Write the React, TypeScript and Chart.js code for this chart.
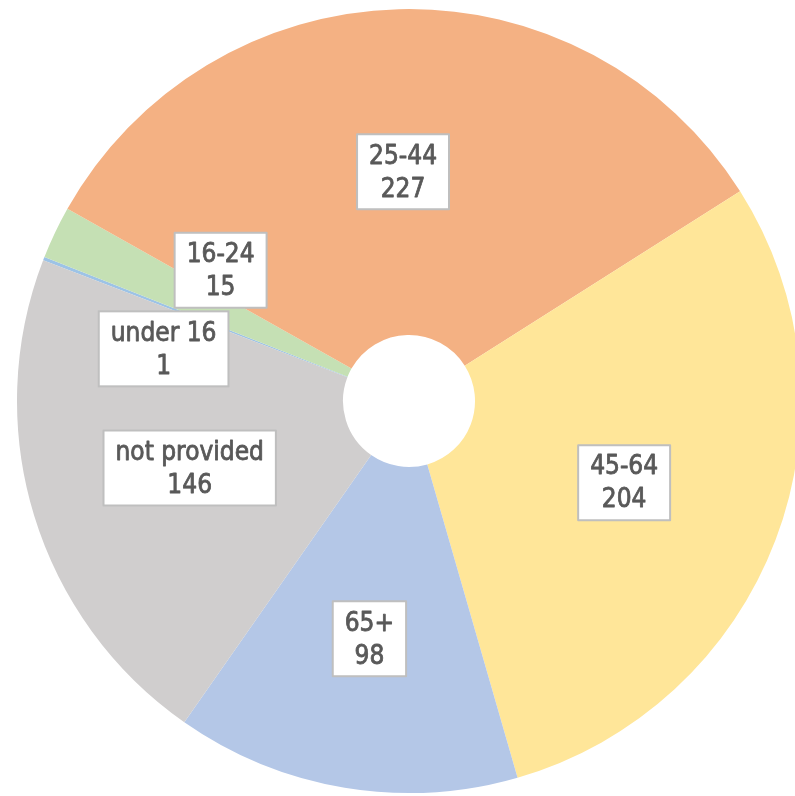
import React, { useEffect, useRef } from "react";
import { Chart, registerables } from "chart.js";

Chart.register(...registerables);

const categories = ["under 16", "16-24", "25-44", "45-64", "65+", "not provided"];
const counts = [1, 15, 227, 204, 98, 146];
const sliceColors = ["#9DC3E6", "#C5E0B4", "#F4B183", "#FFE699", "#B4C7E7", "#D0CECE"];
// label placement tweaks (degrees shift from slice middle, fraction of radius)
const labelAngleShift = [-9.3, 9.3, 0, 0, 0, 0];
const labelRadiusFrac = [0.64, 0.585, 0.585, 0.587, 0.615, 0.585];

const FONT = '"DejaVu Sans Condensed", "DejaVu Sans", sans-serif';

const labelPlugin = {
  id: "boxLabels",
  afterDraw(chart: any) {
    const ctx = chart.ctx;
    const meta = chart.getDatasetMeta(0);
    ctx.save();
    ctx.font = `26px ${FONT}`;
    meta.data.forEach((arc: any, i: number) => {
      const p = arc.getProps(["x", "y", "startAngle", "endAngle", "outerRadius"], true);
      const mid = (p.startAngle + p.endAngle) / 2 + (labelAngleShift[i] * Math.PI) / 180;
      const r = p.outerRadius * labelRadiusFrac[i];
      const cx = p.x + Math.cos(mid) * r;
      const cy = p.y + Math.sin(mid) * r;
      const l1 = categories[i];
      const l2 = String(counts[i]);
      const w = Math.max(ctx.measureText(l1).width, ctx.measureText(l2).width) + 24;
      const h = 75;
      ctx.fillStyle = "#FFFFFF";
      ctx.fillRect(cx - w / 2, cy - h / 2, w, h);
      ctx.strokeStyle = "#BFBFBF";
      ctx.lineWidth = 2;
      ctx.strokeRect(cx - w / 2, cy - h / 2, w, h);
      ctx.fillStyle = "#595959";
      ctx.strokeStyle = "#595959";
      ctx.lineWidth = 0.8;
      ctx.lineJoin = "round";
      ctx.textAlign = "center";
      ctx.textBaseline = "middle";
      ctx.fillText(l1, cx, cy - 15);
      ctx.strokeText(l1, cx, cy - 15);
      ctx.fillText(l2, cx, cy + 18);
      ctx.strokeText(l2, cx, cy + 18);
    });
    ctx.restore();
  },
};

export default function App() {
  const ref = useRef<HTMLCanvasElement>(null);
  useEffect(() => {
    if (!ref.current) return;
    const chart = new Chart(ref.current, {
      type: "doughnut",
      data: {
        labels: categories,
        datasets: [
          {
            data: counts,
            backgroundColor: sliceColors,
            borderWidth: 0,
          },
        ],
      },
      options: {
        responsive: false,
        animation: false,
        devicePixelRatio: 1,
        cutout: 66,
        rotation: 291.04,
        layout: { padding: { top: 9, bottom: 7, left: 0, right: 0 } },
        plugins: {
          legend: { display: false },
          tooltip: { enabled: false },
        },
      },
      plugins: [labelPlugin],
    });
    return () => chart.destroy();
  }, []);
  return (
    <div style={{ position: "fixed", left: 0, top: 0, width: 795, height: 796, overflow: "hidden", background: "#fff" }}>
      <canvas ref={ref} width={818} height={800} style={{ width: 818, height: 800, display: "block" }} />
    </div>
  );
}
